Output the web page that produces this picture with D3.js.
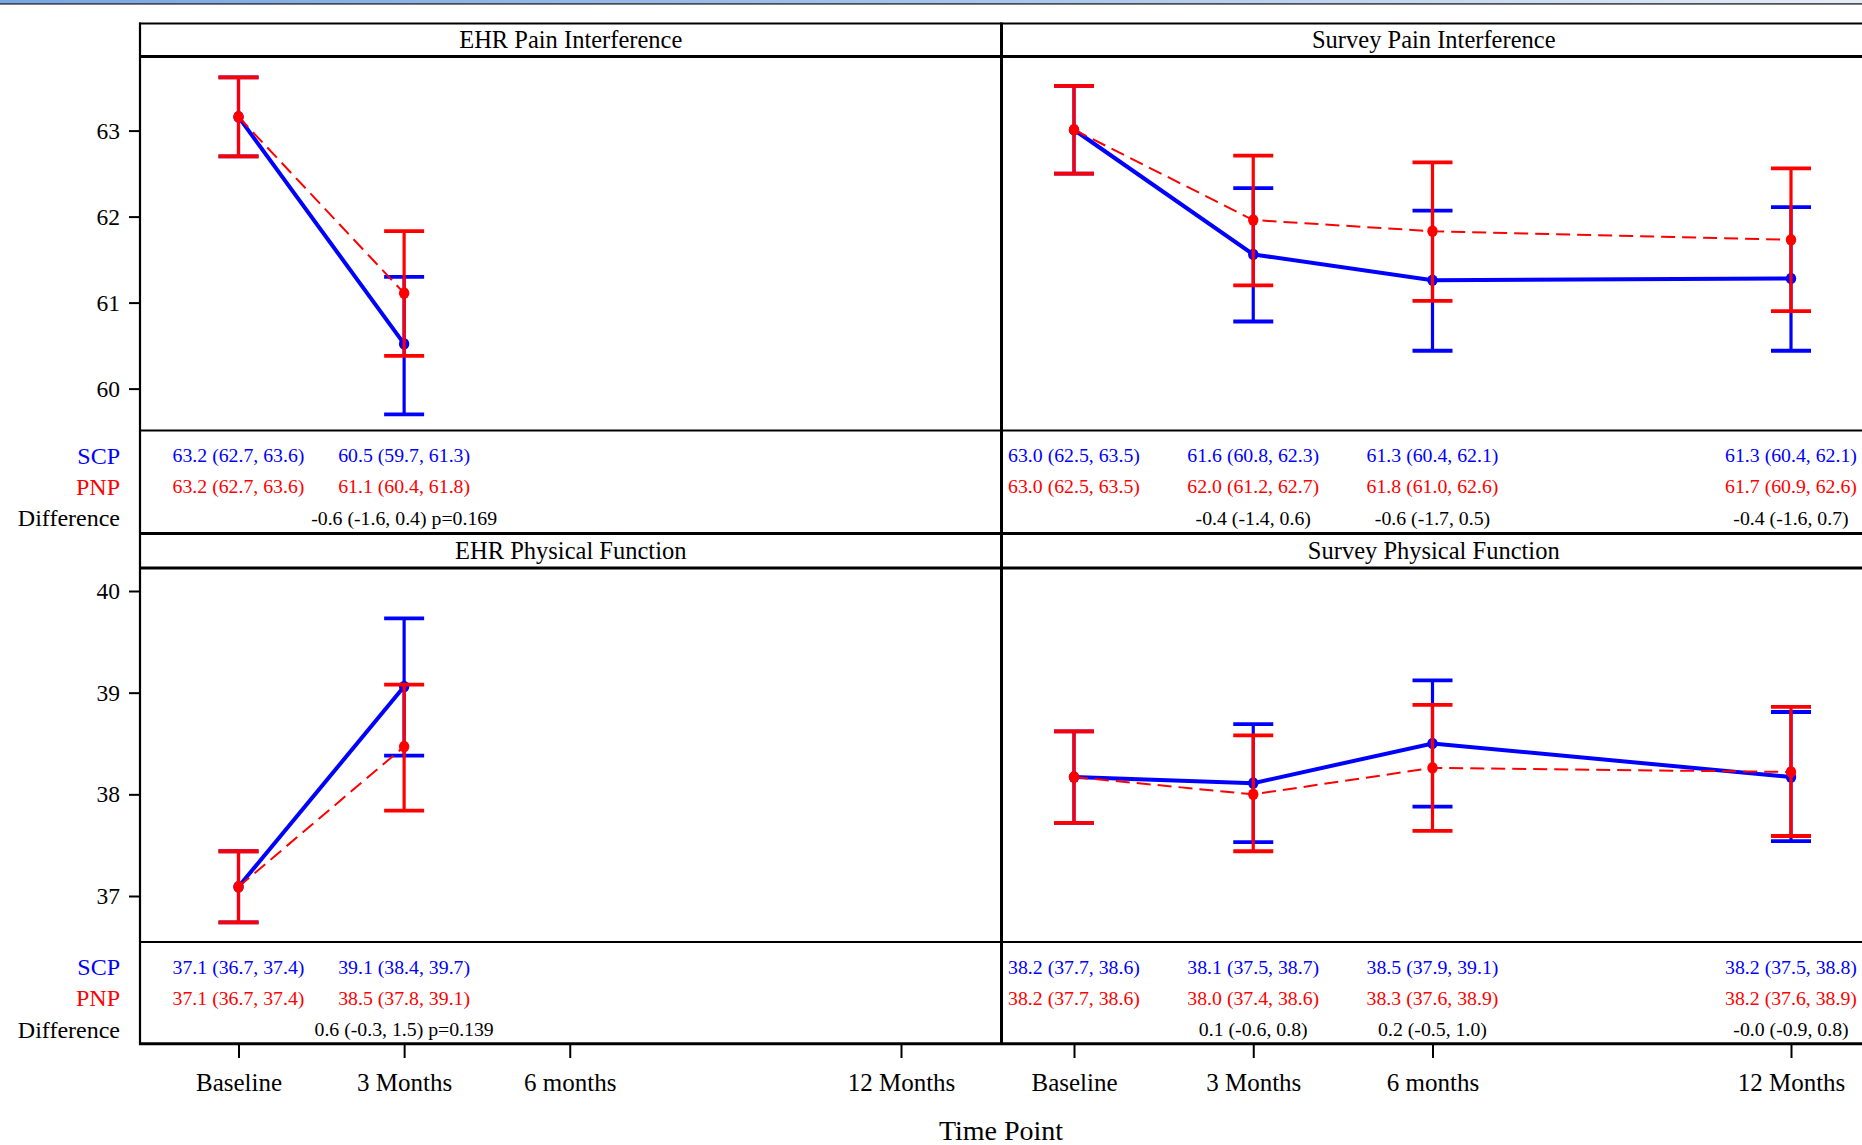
<!DOCTYPE html>
<html>
<head>
<meta charset="utf-8">
<script src="https://cdn.jsdelivr.net/npm/d3@7"></script>
<style>
  html, body { margin: 0; padding: 0; background: #fff; overflow: hidden; }
  svg { display: block; }
  text { font-family: "Liberation Serif", "Times New Roman", serif; }
</style>
</head>
<body>
<script>
// ---------------- DATA ----------------
const timeLabels = ["Baseline", "3 Months", "6 months", "12 Months"];
const timeMonths = [0, 3, 6, 12];
const groupNames = ["SCP", "PNP"];
const panelTitles = ["EHR Pain Interference", "Survey Pain Interference", "EHR Physical Function", "Survey Physical Function"];
const painTicks = [60, 61, 62, 63];
const physTicks = [37, 38, 39, 40];

// EHR Pain Interference (Baseline, 3 Months)
const ehrPainScpMean = [63.16, 60.52];
const ehrPainScpLow  = [62.70, 59.70];
const ehrPainScpHigh = [63.62, 61.30];
const ehrPainPnpMean = [63.16, 61.11];
const ehrPainPnpLow  = [62.70, 60.38];
const ehrPainPnpHigh = [63.62, 61.83];
const ehrPainDiff    = ["", "-0.6 (-1.6, 0.4) p=0.169"];

// Survey Pain Interference (Baseline, 3, 6, 12 Months)
const surPainScpMean = [63.01, 61.56, 61.26, 61.28];
const surPainScpLow  = [62.50, 60.78, 60.44, 60.44];
const surPainScpHigh = [63.52, 62.33, 62.07, 62.11];
const surPainPnpMean = [63.01, 61.96, 61.83, 61.73];
const surPainPnpLow  = [62.50, 61.20, 61.02, 60.90];
const surPainPnpHigh = [63.52, 62.71, 62.63, 62.56];
const surPainDiff    = ["", "-0.4 (-1.4, 0.6)", "-0.6 (-1.7, 0.5)", "-0.4 (-1.6, 0.7)"];

// EHR Physical Function (Baseline, 3 Months)
const ehrPhysScpMean = [37.09, 39.06];
const ehrPhysScpLow  = [36.74, 38.38];
const ehrPhysScpHigh = [37.44, 39.73];
const ehrPhysPnpMean = [37.09, 38.47];
const ehrPhysPnpLow  = [36.74, 37.84];
const ehrPhysPnpHigh = [37.44, 39.08];
const ehrPhysDiff    = ["", "0.6 (-0.3, 1.5) p=0.139"];

// Survey Physical Function (Baseline, 3, 6, 12 Months)
const surPhysScpMean = [38.17, 38.11, 38.50, 38.17];
const surPhysScpLow  = [37.72, 37.53, 37.88, 37.54];
const surPhysScpHigh = [38.62, 38.69, 39.12, 38.81];
const surPhysPnpMean = [38.17, 38.00, 38.26, 38.22];
const surPhysPnpLow  = [37.72, 37.44, 37.64, 37.59];
const surPhysPnpHigh = [38.62, 38.58, 38.88, 38.86];
const surPhysDiff    = ["", "0.1 (-0.6, 0.8)", "0.2 (-0.5, 1.0)", "-0.0 (-0.9, 0.8)"];

// ---------------- BUILD ----------------
function series(mean, low, high) {
  return mean.map((m, i) => ({ month: timeMonths[i], mean: m, low: low[i], high: high[i] }));
}
const panels = [
  { title: panelTitles[0], row: 0, col: 0,
    scp: series(ehrPainScpMean, ehrPainScpLow, ehrPainScpHigh),
    pnp: series(ehrPainPnpMean, ehrPainPnpLow, ehrPainPnpHigh), diff: ehrPainDiff },
  { title: panelTitles[1], row: 0, col: 1,
    scp: series(surPainScpMean, surPainScpLow, surPainScpHigh),
    pnp: series(surPainPnpMean, surPainPnpLow, surPainPnpHigh), diff: surPainDiff },
  { title: panelTitles[2], row: 1, col: 0,
    scp: series(ehrPhysScpMean, ehrPhysScpLow, ehrPhysScpHigh),
    pnp: series(ehrPhysPnpMean, ehrPhysPnpLow, ehrPhysPnpHigh), diff: ehrPhysDiff },
  { title: panelTitles[3], row: 1, col: 1,
    scp: series(surPhysScpMean, surPhysScpLow, surPhysScpHigh),
    pnp: series(surPhysPnpMean, surPhysPnpLow, surPhysPnpHigh), diff: surPhysDiff }
];

const W = 1862, H = 1145;
const BLUE = "#0000ff", RED = "#ff0000";
const FONT = "'Liberation Serif', 'Times New Roman', serif";

const cols = [{ left: 140, right: 1001.5, x0: 238.5, x12: 901 },
              { left: 1001.5, right: 1866, x0: 1074, x12: 1791 }];
const rows = [
  { hTop: 23.5, hBot: 56.5, pBot: 430.5, tBot: 533.5, yDom: [60, 63], yRng: [388.6, 130.6], ticks: painTicks },
  { hTop: 533.5, hBot: 568, pBot: 942, tBot: 1043.5, yDom: [37, 40], yRng: [896, 591], ticks: physTicks }
];
const tableRowOffsets = [25, 56, 87.5];

const svg = d3.select("body").append("svg").attr("width", W).attr("height", H);

// window-edge strip at very top
const defs = svg.append("defs");
const grad = defs.append("linearGradient").attr("id", "topbar").attr("x1", 0).attr("x2", 1).attr("y1", 0).attr("y2", 0);
grad.append("stop").attr("offset", "0%").attr("stop-color", "#78a6e8");
grad.append("stop").attr("offset", "55%").attr("stop-color", "#a9c6ee");
grad.append("stop").attr("offset", "100%").attr("stop-color", "#e4ecf7");
svg.append("rect").attr("x", 0).attr("y", 0).attr("width", W).attr("height", 3.5).attr("fill", "url(#topbar)");
svg.append("rect").attr("x", 0).attr("y", 3.2).attr("width", W).attr("height", 1.4).attr("fill", "#2a2a2a");

const xScales = cols.map(c => d3.scaleLinear().domain([0, 12]).range([c.x0, c.x12]));
const yScales = rows.map(r => d3.scaleLinear().domain(r.yDom).range(r.yRng));

// draw panels
panels.forEach(p => {
  const c = cols[p.col], r = rows[p.row];
  const x = xScales[p.col], y = yScales[p.row];
  const g = svg.append("g");

  // header title
  g.append("text")
    .attr("x", (c.left + c.right) / 2).attr("y", (r.hTop + r.hBot) / 2)
    .attr("dy", "0.34em").attr("text-anchor", "middle")
    .attr("font-size", 24.5).attr("fill", "#000").text(p.title);

  const drawGroup = (data, color, dashed, lw) => {
    const line = d3.line().x(d => x(d.month)).y(d => y(d.mean));
    g.append("path").datum(data).attr("d", line)
      .attr("fill", "none").attr("stroke", color).attr("stroke-width", lw)
      .attr("stroke-dasharray", dashed ? "14,7" : null);
    const eb = g.append("g").selectAll("g").data(data).join("g");
    eb.append("line")
      .attr("x1", d => x(d.month)).attr("x2", d => x(d.month))
      .attr("y1", d => y(d.low)).attr("y2", d => y(d.high))
      .attr("stroke", color).attr("stroke-width", 3.2);
    ["low", "high"].forEach(k => {
      eb.append("line")
        .attr("x1", d => x(d.month) - 20).attr("x2", d => x(d.month) + 20)
        .attr("y1", d => y(d[k])).attr("y2", d => y(d[k]))
        .attr("stroke", color).attr("stroke-width", 3.8);
    });
    g.append("g").selectAll("ellipse").data(data).join("ellipse")
      .attr("cx", d => x(d.month)).attr("cy", d => y(d.mean)).attr("rx", 5.2).attr("ry", 5.8)
      .attr("fill", color);
  };
  drawGroup(p.scp, BLUE, false, 4);
  drawGroup(p.pnp, RED, true, 2);

  // table values
  const rowY = tableRowOffsets.map(o => r.pBot + o);
  const fmt = d => `${d.mean.toFixed(1)} (${d.low.toFixed(1)}, ${d.high.toFixed(1)})`;
  [[p.scp, BLUE, 0], [p.pnp, RED, 1]].forEach(([data, color, k]) => {
    g.append("g").selectAll("text").data(data).join("text")
      .attr("x", d => x(d.month)).attr("y", rowY[k]).attr("dy", "0.35em")
      .attr("text-anchor", "middle").attr("font-size", 19.8).attr("fill", color)
      .text(fmt);
  });
  g.append("g").selectAll("text").data(p.diff.map((t, i) => ({ t, month: timeMonths[i] })).filter(d => d.t))
    .join("text")
    .attr("x", d => x(d.month)).attr("y", rowY[2]).attr("dy", "0.35em")
    .attr("text-anchor", "middle").attr("font-size", 19.8).attr("fill", "#000")
    .text(d => d.t);
});

// row labels + y axes
rows.forEach((r, ri) => {
  const labels = [groupNames[0], groupNames[1], "Difference"];
  const colors = [BLUE, RED, "#000"];
  labels.forEach((t, i) => {
    svg.append("text").attr("x", 120).attr("y", r.pBot + tableRowOffsets[i]).attr("dy", "0.35em")
      .attr("text-anchor", "end").attr("font-size", 24).attr("fill", colors[i]).text(t);
  });
  const ax = svg.append("g").attr("transform", `translate(140,0)`)
    .call(d3.axisLeft(yScales[ri]).tickValues(r.ticks).tickFormat(d3.format("d")).tickSize(11).tickPadding(9));
  ax.attr("font-family", null);
  ax.select(".domain").remove();
  ax.selectAll(".tick line").attr("stroke", "#000").attr("stroke-width", 2);
  ax.selectAll(".tick text").attr("font-size", 23.5).attr("fill", "#000");
});

// x axes (bottom)
cols.forEach((c, ci) => {
  const ax = svg.append("g").attr("transform", `translate(0,1045)`)
    .call(d3.axisBottom(xScales[ci]).tickValues(timeMonths)
      .tickFormat((d, i) => timeLabels[i]).tickSize(13).tickPadding(15));
  ax.attr("font-family", null);
  ax.select(".domain").remove();
  ax.selectAll(".tick line").attr("stroke", "#000").attr("stroke-width", 2);
  ax.selectAll(".tick text").attr("font-size", 25).attr("fill", "#000");
});

// frame lines
const frame = svg.append("g").attr("stroke", "#000");
const hLines = [[23.5, 2.2], [56.5, 3], [430.5, 2], [533.5, 3], [568, 3.2], [942, 2.2], [1043.8, 3]];
hLines.forEach(([yy, w]) => frame.append("line").attr("x1", 139).attr("x2", W).attr("y1", yy).attr("y2", yy).attr("stroke-width", w));
frame.append("line").attr("x1", 140).attr("x2", 140).attr("y1", 22.5).attr("y2", 1045).attr("stroke-width", 2.2);
frame.append("line").attr("x1", 1001.5).attr("x2", 1001.5).attr("y1", 22.5).attr("y2", 1045).attr("stroke-width", 3);

// axis title
svg.append("text").attr("x", 1001).attr("y", 1130).attr("dy", "0.35em")
  .attr("text-anchor", "middle").attr("font-size", 28).attr("fill", "#000").text("Time Point");
</script>
</body>
</html>
